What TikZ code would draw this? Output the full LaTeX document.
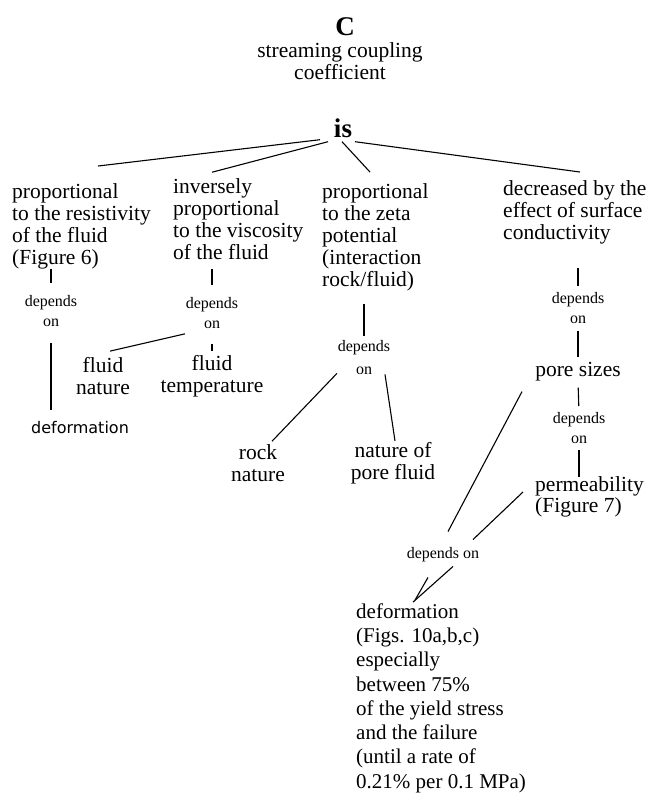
\documentclass[tikz,border=0pt]{standalone}
\usepackage{fontspec}
\setmainfont{Liberation Serif}
\newfontfamily\plainsans{DejaVu Sans}
\usetikzlibrary{positioning}
\tikzset{
  concept/.style = {inner sep=0pt, align=left,
                    font=\fontsize{21.5}{22}\selectfont},
  centred/.style = {concept, align=center},
  verb/.style    = {inner sep=0pt, align=center,
                    font=\fontsize{16}{20}\selectfont},
  head/.style    = {inner sep=0pt, font=\bfseries\fontsize{27}{28}\selectfont},
  link/.style    = {line width=1.1pt},
}

\begin{document}
\begin{tikzpicture}[x=1pt, y=-1pt]
\useasboundingbox (0,0) rectangle (648,795);

% ── head of the map ─────────────────────────────────────────
\node[head] (symb) at (345,27) {C};
\node[centred] (coef) at (340,61) {streaming coupling\\coefficient};
\node[head] (is) at (343,128) {is};

% ── the four properties ─────────────────────────────────────
\node[concept, anchor=west] (resist) at (12,226)
  {proportional\\to the resistivity\\of the fluid\\(Figure 6)};
\node[concept, anchor=west] (visc) at (173,219)
  {inversely\\proportional\\to the viscosity\\of the fluid};
\node[concept, anchor=west] (zeta) at (322,237)
  {proportional\\to the zeta\\potential\\(interaction\\rock/fluid)};
\node[concept, anchor=west] (surf) at (503,212)
  {decreased by the\\effect of surface\\conductivity};

\draw[link] ([shift={(-23,2)}]is.south)  -- ([shift={(86,-17)}]resist.north west);
\draw[link] ([shift={(-15,4)}]is.south)  -- ([shift={(39,-6)}]visc.north west);
\draw[link] ([shift={(-1,4)}]is.south)   -- ([shift={(48,-11)}]zeta.north west);
\draw[link] ([shift={(12,4)}]is.south)   -- ([shift={(77,-8)}]surf.north west);

% ── resistivity ─────────────────────────────────────────────
\node[verb] (dep1) at (51,311) {depends\\on};
\node[inner sep=0pt, font=\plainsans\fontsize{16}{18}\selectfont]
  (deform1) at (80,428) {deformation};

\draw[link, shorten >=12pt] (resist.south -| dep1.north) -- (dep1.north);
\draw[link, shorten <=16pt, shorten >=12pt] (dep1.south) -- (dep1.south |- deform1.north);

% ── viscosity ───────────────────────────────────────────────
\node[verb] (dep2) at (212,313) {depends\\on};
\node[centred] (fnat)  at (103,376) {fluid\\nature};
\node[centred] (ftemp) at (212,376) {fluid\\temperature};

\draw[link, shorten <=9pt, shorten >=12pt] (visc.south -| dep2.north) -- (dep2.north);
\draw[link] ([shift={(-27,5)}]dep2.south) -- ([shift={(7,-6)}]fnat.north);
\draw[link, shorten <=15pt, shorten >=4pt] (dep2.south) -- (ftemp.north);

% ── zeta potential ──────────────────────────────────────────
\node[verb, font=\fontsize{16}{23}\selectfont] (dep3) at (364,358) {depends\\on};
\node[centred] (rock)   at (258,463) {rock\\nature};
\node[centred] (porefl) at (393,463) {nature of\\pore fluid};

\draw[link, shorten <=13pt, shorten >=5pt] (zeta.south -| dep3.north) -- (dep3.north);
\draw[link] ([shift={(-27,-2)}]dep3.south) -- ([shift={(14,-3)}]rock.north);
\draw[link] ([shift={(21,-1)}]dep3.south)  -- ([shift={(2,-1)}]porefl.north);

% ── surface conductivity ────────────────────────────────────
\node[verb] (dep4) at (578,308) {depends\\on};
\node[concept] (pores) at (578,372) {pore sizes};
\node[verb] (dep5) at (579,428) {depends\\on};
\node[concept, anchor=west, font=\fontsize{21.5}{20.5}\selectfont]
  (perm) at (535,497) {permeability\\(Figure 7)};

\draw[link, shorten <=24pt, shorten >=6pt] (surf.south -| dep4.north) -- (dep4.north);
\draw[link, shorten <=7pt, shorten >=5pt] (dep4.south) -- (pores.north);
\draw[link, shorten <=6pt, shorten >=6pt] (pores.south) -- (dep5.north);
\draw[link, shorten <=6pt] (dep5.south) -- (dep5.south |- perm.north);

% ── deformation ─────────────────────────────────────────────
\node[verb] (dep6) at (443,555) {depends on};
\node[concept, anchor=west, font=\fontsize{21}{24.3}\selectfont] (deform2) at (356,698)
  {deformation\\(Figs. 10a,b,c)\\especially\\between 75\%\\of the yield stress\\
   and the failure\\(until a rate of\\0.21\% per 0.1 MPa)};

\draw[link] ([shift={(-56,10)}]pores.south) -- ([shift={(5,-16)}]dep6.north);
\draw[link] ([shift={(-12,-5)}]perm.west)   -- ([shift={(30,-8)}]dep6.north);
\draw[link] ([shift={(10,4)}]dep6.south)    -- ([shift={(57,-1)}]deform2.north west);
\draw[link] ([shift={(-15,15)}]dep6.south)  -- ([shift={(59,-3)}]deform2.north west);

\end{tikzpicture}
\end{document}
